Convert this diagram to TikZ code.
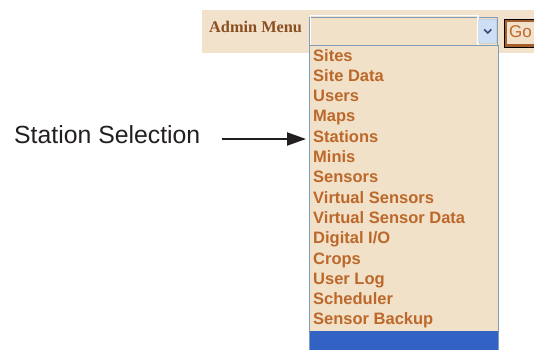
\documentclass[tikz,border=0pt]{standalone}
\usepackage{fontspec}
\setmainfont{Liberation Sans}
\newfontfamily\serifbold{Liberation Serif}
\usetikzlibrary{arrows.meta,calc}
\definecolor{bandbg}{RGB}{242,226,204}
\definecolor{listbg}{RGB}{242,225,201}
\definecolor{itemtxt}{RGB}{188,104,42}
\definecolor{admintxt}{RGB}{138,78,32}
\definecolor{selborder}{RGB}{127,157,185}
\definecolor{btnblue}{RGB}{205,222,245}
\definecolor{chev}{RGB}{55,75,115}
\definecolor{gobrown}{RGB}{165,95,45}
\definecolor{selblue}{RGB}{49,98,196}
\definecolor{labeltxt}{RGB}{35,31,32}
\tikzset{
  item/.style={anchor=base west, inner sep=0pt, text=itemtxt,
    font=\fontsize{16.5}{18}\selectfont\bfseries},
  pointer/.style={-{Triangle[length=19pt,width=13pt]}, line width=2pt, draw=labeltxt},
}
\begin{document}
\begin{tikzpicture}[x=1pt,y=-1pt]
\clip (0,0) rectangle (534,349);
\fill[white] (0,0) rectangle (534,349);
% header band
\fill[bandbg] (202,10) rectangle (534,53);
\node[anchor=base west, inner sep=0pt, text=admintxt,
  font=\serifbold\fontsize{16.3}{18}\selectfont\bfseries] (admin) at (209,32) {Admin Menu};
% select box
\node[draw=selborder, line width=1pt, fill=listbg, minimum width=188pt, minimum height=28pt,
  anchor=north west, inner sep=0pt] (select) at (309,17) {};
\draw[white, line width=1.2pt] ($(select.north west)+(1.5,-1.5)$) rectangle ($(select.south east)+(-20,1.5)$);
\node[draw=selborder!70, fill=btnblue, rounded corners=1pt, minimum width=18pt, minimum height=24pt,
  anchor=north west, inner sep=0pt] (drop) at (478.5,19) {};
\draw[chev, line width=1.6pt] ($(drop.center)+(-3.5,-1.8)$) -- ($(drop.center)+(0,1.8)$) -- ($(drop.center)+(3.5,-1.8)$);
% Go button
\node[draw=black, line width=1.4pt, fill=bandbg, minimum width=40pt, minimum height=28pt,
  anchor=north west, inner sep=0pt] (gobtn) at (503.5,18.5) {};
\draw[gobrown, line width=2.4pt] ($(gobtn.north west)+(2.4,2.4)$) rectangle ($(gobtn.south east)+(-2.4,-2.4)$);
\node[anchor=base west, inner sep=0pt, text=itemtxt, font=\fontsize{17}{18}\selectfont] (go) at (509,37.5) {Go};
% dropdown list
\node[draw=selborder, line width=1pt, fill=listbg, minimum width=189pt, minimum height=310pt,
  anchor=north west, inner sep=0pt] (list) at (309,45) {};
\fill[selblue] (309.5,331) rectangle (497.5,352);
% items
\foreach \t [count=\i from 0] in {Sites,Site Data,Users,Maps,Stations,Minis,Sensors,Virtual Sensors,Virtual Sensor Data,Digital I/O,Crops,User Log,Scheduler,Sensor Backup}{
  \node[item] (it\i) at (313,61+\i*20.3) {\t};
}
% label and arrow
\node[anchor=base west, inner sep=0pt, text=labeltxt, font=\fontsize{24.8}{28}\selectfont] (label) at (14,143) {Station Selection};
\coordinate (arrowstart) at (222,139);
\coordinate (arrowend) at (306,139);
\draw[pointer] (arrowstart) -- (arrowend);
\end{tikzpicture}
\end{document}
